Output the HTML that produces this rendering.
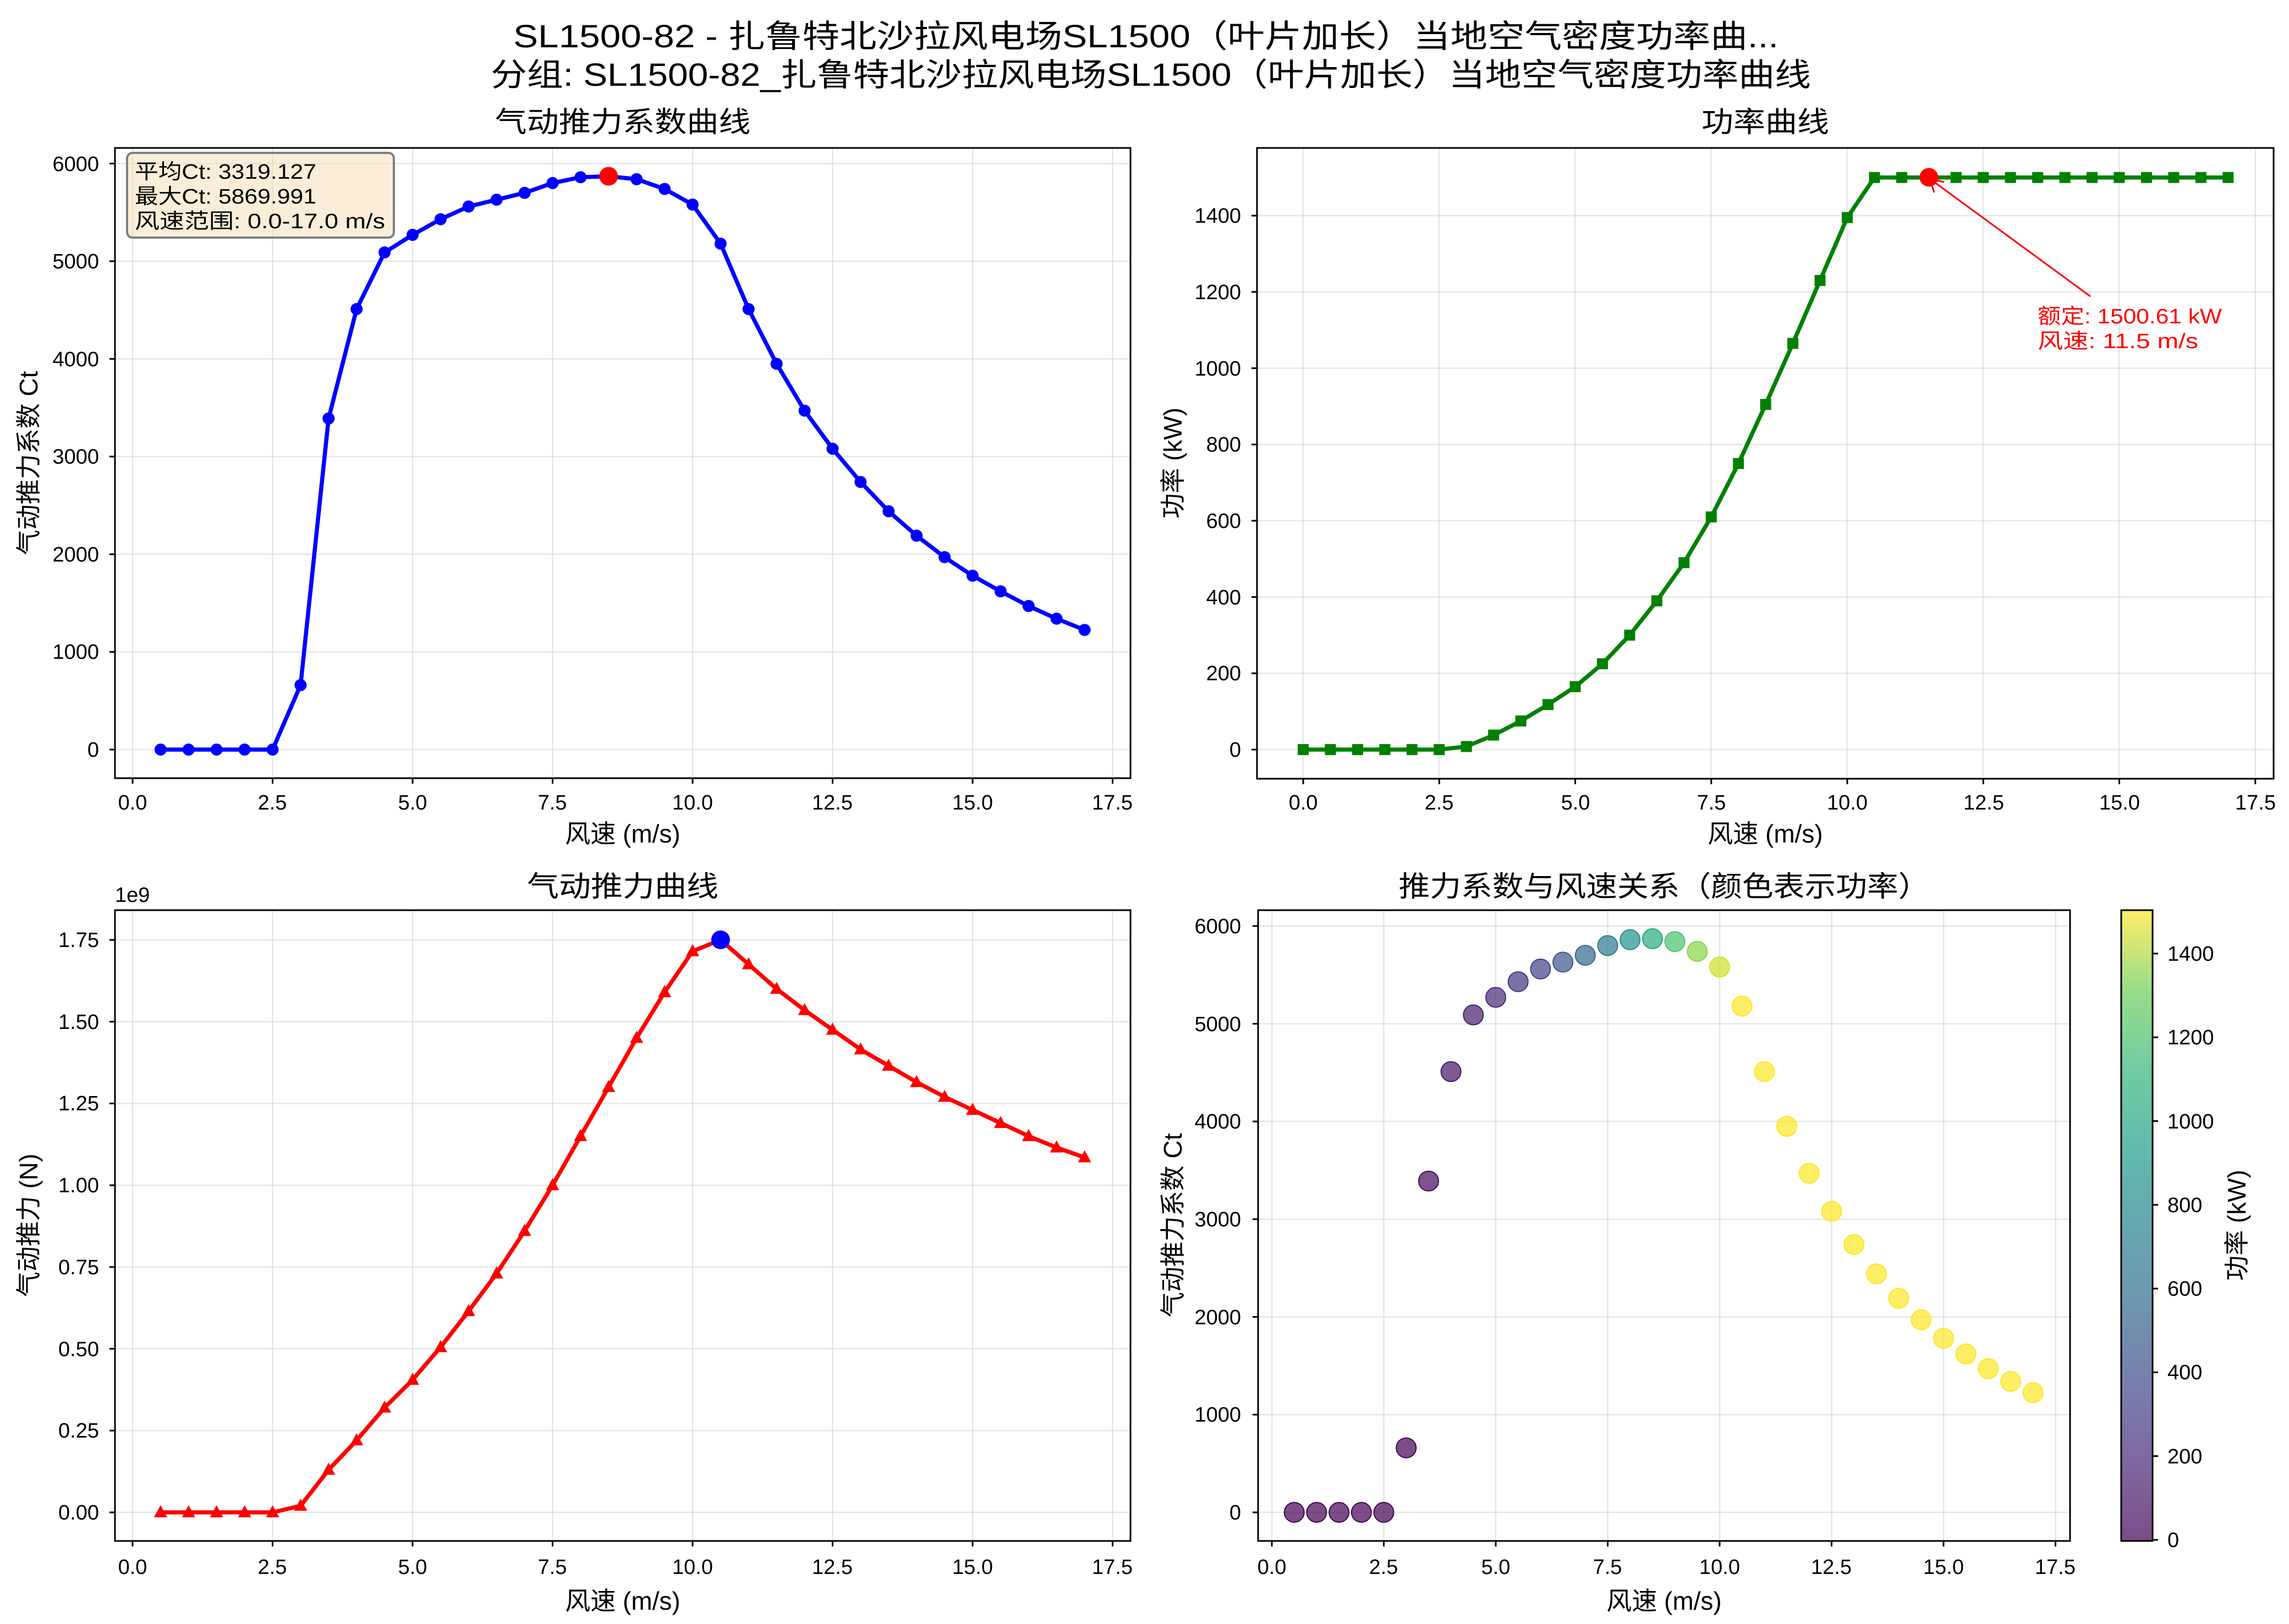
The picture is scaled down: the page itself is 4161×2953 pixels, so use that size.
<!DOCTYPE html>
<html><head><meta charset="utf-8"><style>
html,body{margin:0;padding:0;background:#fff}
svg{display:block}
text{font-family:"Liberation Sans","Noto Sans CJK SC",sans-serif;fill:#000}
.tk{font-size:38px}
.lb{font-size:46px}
.tt{font-size:52px}
text.red{fill:#ff0000}
</style></head><body>
<svg id="s" width="4161" height="2953" viewBox="0 0 4161 2953" xmlns="http://www.w3.org/2000/svg">
<rect width="4161" height="2953" fill="#fff"/>
<g id="grid"></g>
<g id="series"></g>
<g fill="none" stroke="#000" stroke-width="3">
<rect x="209" y="269" width="1846" height="1146"/>
<rect x="2285" y="269" width="1848" height="1147"/>
<rect x="209" y="1655" width="1846" height="1147"/>
<rect x="2287" y="1655" width="1476" height="1147"/>
</g>
<text x="2083" y="86" text-anchor="middle" style="font-size:58px" textLength="2300" lengthAdjust="spacingAndGlyphs">SL1500-82 - 扎鲁特北沙拉风电场SL1500（叶片加长）当地空气密度功率曲...</text>
<text x="2092" y="156" text-anchor="middle" style="font-size:58px" textLength="2400" lengthAdjust="spacingAndGlyphs">分组: SL1500-82_扎鲁特北沙拉风电场SL1500（叶片加长）当地空气密度功率曲线</text>
<text class="tt" x="1132" y="240" text-anchor="middle" textLength="465" lengthAdjust="spacingAndGlyphs">气动推力系数曲线</text>
<text class="tt" x="3209" y="240" text-anchor="middle" textLength="232" lengthAdjust="spacingAndGlyphs">功率曲线</text>
<text class="tt" x="1132" y="1630" text-anchor="middle" textLength="348" lengthAdjust="spacingAndGlyphs">气动推力曲线</text>
<text class="tt" x="3025" y="1630" text-anchor="middle" textLength="965" lengthAdjust="spacingAndGlyphs">推力系数与风速关系（颜色表示功率）</text>
<text class="lb" x="1132" y="1532" text-anchor="middle">风速 (m/s)</text>
<text class="lb" x="3209" y="1532" text-anchor="middle">风速 (m/s)</text>
<text class="lb" x="1132" y="2927" text-anchor="middle">风速 (m/s)</text>
<text class="lb" x="3025" y="2927" text-anchor="middle">风速 (m/s)</text>
<text class="lb" transform="translate(68,842) rotate(-90)" text-anchor="middle">气动推力系数 Ct</text>
<text class="lb" transform="translate(2148,842) rotate(-90)" text-anchor="middle">功率 (kW)</text>
<text class="lb" transform="translate(68,2228) rotate(-90)" text-anchor="middle">气动推力 (N)</text>
<text class="lb" transform="translate(2148,2228) rotate(-90)" text-anchor="middle">气动推力系数 Ct</text>
<text class="lb" transform="translate(4082,2228) rotate(-90)" text-anchor="middle">功率 (kW)</text>
<g class="tk" text-anchor="middle">
<text x="241" y="1472">0.0</text><text x="495" y="1472">2.5</text><text x="750" y="1472">5.0</text><text x="1004" y="1472">7.5</text><text x="1259" y="1472">10.0</text><text x="1513" y="1472">12.5</text><text x="1768" y="1472">15.0</text><text x="2022" y="1472">17.5</text>
<text x="2369" y="1472">0.0</text><text x="2616" y="1472">2.5</text><text x="2864" y="1472">5.0</text><text x="3111" y="1472">7.5</text><text x="3358" y="1472">10.0</text><text x="3606" y="1472">12.5</text><text x="3853" y="1472">15.0</text><text x="4100" y="1472">17.5</text>
<text x="241" y="2862">0.0</text><text x="495" y="2862">2.5</text><text x="750" y="2862">5.0</text><text x="1004" y="2862">7.5</text><text x="1259" y="2862">10.0</text><text x="1513" y="2862">12.5</text><text x="1768" y="2862">15.0</text><text x="2022" y="2862">17.5</text>
<text x="2312" y="2862">0.0</text><text x="2515" y="2862">2.5</text><text x="2719" y="2862">5.0</text><text x="2922" y="2862">7.5</text><text x="3126" y="2862">10.0</text><text x="3329" y="2862">12.5</text><text x="3533" y="2862">15.0</text><text x="3736" y="2862">17.5</text>
</g>
<g class="tk" text-anchor="end">
<text x="180" y="1376">0</text><text x="180" y="1198">1000</text><text x="180" y="1021">2000</text><text x="180" y="843">3000</text><text x="180" y="666">4000</text><text x="180" y="488">5000</text><text x="180" y="311">6000</text>
<text x="2256" y="1376">0</text><text x="2256" y="1237">200</text><text x="2256" y="1099">400</text><text x="2256" y="960">600</text><text x="2256" y="821">800</text><text x="2256" y="683">1000</text><text x="2256" y="544">1200</text><text x="2256" y="405">1400</text>
<text x="180" y="2763">0.00</text><text x="180" y="2614">0.25</text><text x="180" y="2466">0.50</text><text x="180" y="2317">0.75</text><text x="180" y="2168">1.00</text><text x="180" y="2019">1.25</text><text x="180" y="1871">1.50</text><text x="180" y="1722">1.75</text>
<text x="2256" y="2763">0</text><text x="2256" y="2585">1000</text><text x="2256" y="2408">2000</text><text x="2256" y="2230">3000</text><text x="2256" y="2052">4000</text><text x="2256" y="1875">5000</text><text x="2256" y="1697">6000</text>
</g>
<text class="tk" x="209" y="1640">1e9</text>
<g class="tk" text-anchor="start">
<text x="3940" y="2813">0</text><text x="3940" y="2661">200</text><text x="3940" y="2508">400</text><text x="3940" y="2356">600</text><text x="3940" y="2204">800</text><text x="3940" y="2052">1000</text><text x="3940" y="1899">1200</text><text x="3940" y="1747">1400</text>
</g>
<rect x="231" y="278" width="485" height="154" rx="10" fill="#f5deb3" fill-opacity="0.5" stroke="#808080" stroke-width="4"/>
<g style="font-size:38px">
<text x="245" y="325" textLength="330" lengthAdjust="spacingAndGlyphs">平均Ct: 3319.127</text>
<text x="245" y="370" textLength="330" lengthAdjust="spacingAndGlyphs">最大Ct: 5869.991</text>
<text x="245" y="415" textLength="455" lengthAdjust="spacingAndGlyphs">风速范围: 0.0-17.0 m/s</text>
</g>
<line x1="3800" y1="539" x2="3512" y2="328" stroke="#f00" stroke-width="3"/>
<path d="M3508 325 l26 6 M3508 325 l8 25" stroke="#f00" stroke-width="3" fill="none"/>
<g style="font-size:38px">
<text class="red" x="3704" y="588" textLength="335" lengthAdjust="spacingAndGlyphs">额定: 1500.61 kW</text>
<text class="red" x="3704" y="633" textLength="292" lengthAdjust="spacingAndGlyphs">风速: 11.5 m/s</text>
</g>
<defs><linearGradient id="vir" x1="0" y1="1" x2="0" y2="0">
<stop offset="0" stop-color="#440154"/><stop offset="0.125" stop-color="#482878"/><stop offset="0.25" stop-color="#3e4989"/><stop offset="0.375" stop-color="#31688e"/><stop offset="0.5" stop-color="#26828e"/><stop offset="0.625" stop-color="#1f9e89"/><stop offset="0.75" stop-color="#35b779"/><stop offset="0.875" stop-color="#6ece58"/><stop offset="1" stop-color="#fde725"/>
</linearGradient></defs>
<rect x="3856" y="1655" width="57" height="1147" fill="url(#vir)" fill-opacity="0.7" stroke="#000" stroke-width="3"/>
<g id="cbt" stroke="#000" stroke-width="3"></g>
</svg>
<script>
var NS="http://www.w3.org/2000/svg";
function el(p,t,a){var e=document.createElementNS(NS,t);for(var k in a)e.setAttribute(k,a[k]);p.appendChild(e);return e;}
var G=document.getElementById('grid'),S=document.getElementById('series');
var gs={stroke:"#b0b0b0","stroke-opacity":"0.3","stroke-width":"2.6"};
function grid(xs,ys,x0,x1,y0,y1){xs.forEach(function(x){var a=Object.assign({x1:x,x2:x,y1:y0,y2:y1},gs);el(G,'line',a);el(G,'line',{x1:x,x2:x,y1:y1,y2:y1+10,stroke:"#000","stroke-width":3});});
ys.forEach(function(y){var a=Object.assign({x1:x0,x2:x1,y1:y,y2:y},gs);el(G,'line',a);el(G,'line',{x1:x0-10,x2:x0,y1:y,y2:y,stroke:"#000","stroke-width":3});});}
function rng(a,s,n){var r=[];for(var i=0;i<n;i++)r.push(a+s*i);return r;}
grid(rng(241,254.5,8),rng(1363,-177.6,7),209,2055,269,1415);
grid(rng(2369,247.25,8),rng(1363,-138.7,8),2285,4133,269,1416);
grid(rng(241,254.5,8),rng(2750,-148.7,8),209,2055,1655,2802);
grid(rng(2312,203.5,8),rng(2750,-177.7,7),2287,3763,1655,2802);
var cb=document.getElementById('cbt');rng(2800,-152.3,8).forEach(function(y){el(cb,'line',{x1:3913,x2:3923,y1:y,y2:y});});
var ct=[0,0,0,0,0,660,3390,4510,5090,5270,5430,5560,5630,5700,5800,5860,5870,5840,5740,5580,5180,4510,3950,3470,3080,2740,2440,2190,1970,1780,1620,1470,1340,1225];
var pw=[0,0,0,0,0,0,8,38,75,118,165,225,300,390,490,610,750,905,1065,1230,1395,1500,1500,1500,1500,1500,1500,1500,1500,1500,1500,1500,1500,1500,1500];
var th=[0,0,0,0,0,0.02,0.13,0.22,0.32,0.405,0.505,0.615,0.73,0.86,1.0,1.15,1.30,1.45,1.59,1.715,1.75,1.675,1.60,1.535,1.475,1.415,1.365,1.315,1.27,1.23,1.19,1.15,1.115,1.085];
var pts=ct.map(function(c,i){var v=0.5+0.5*i;return [241+v*101.8,1363-c*0.1776];});
el(S,'polyline',{points:pts.join(' '),fill:"none",stroke:"#0000ff","stroke-width":7.5,"stroke-linejoin":"round"});
pts.forEach(function(p){el(S,'circle',{cx:p[0],cy:p[1],r:11,fill:"#0000ff"});});
el(S,'circle',{cx:241+8.5*101.8,cy:1363-5870*0.1776,r:17,fill:"#ff0000"});
pts=pw.map(function(c,i){var v=0.5*i;return [2369+v*98.9,1363-c*0.6935];});
el(S,'polyline',{points:pts.join(' '),fill:"none",stroke:"#008000","stroke-width":7.5,"stroke-linejoin":"round"});
pts.forEach(function(p){el(S,'rect',{x:p[0]-10,y:p[1]-10,width:20,height:20,fill:"#008000"});});
el(S,'circle',{cx:2369+11.5*98.9,cy:1363-1500.6*0.6935,r:17,fill:"#ff0000"});
pts=th.map(function(c,i){var v=0.5+0.5*i;return [241+v*101.8,2750-c*594.9];});
el(S,'polyline',{points:pts.join(' '),fill:"none",stroke:"#ff0000","stroke-width":7.5,"stroke-linejoin":"round"});
pts.forEach(function(p){el(S,'polygon',{points:[p[0],p[1]-13,p[0]-12,p[1]+9,p[0]+12,p[1]+9].join(' '),fill:"#ff0000"});});
el(S,'circle',{cx:241+10.5*101.8,cy:2750-1.75*594.9,r:17,fill:"#0000ff"});
var V=[[68,1,84],[72,40,120],[62,73,137],[49,104,142],[38,130,142],[31,158,137],[53,183,121],[110,206,88],[181,222,43],[253,231,37]];
function vir(t){t=Math.max(0,Math.min(1,t))*9;var i=Math.min(8,Math.floor(t)),f=t-i;var c=V[i].map(function(a,k){return Math.round(a+(V[i+1][k]-a)*f);});return "rgb("+c.join(",")+")";}
ct.forEach(function(c,i){var v=0.5+0.5*i;var p=pw[i+1];var col=vir(p/1500.6);
el(S,'circle',{cx:2312+v*81.4,cy:2750-c*0.1777,r:18,fill:col,"fill-opacity":0.7,stroke:col,"stroke-width":2});});
</script>
</body></html>
